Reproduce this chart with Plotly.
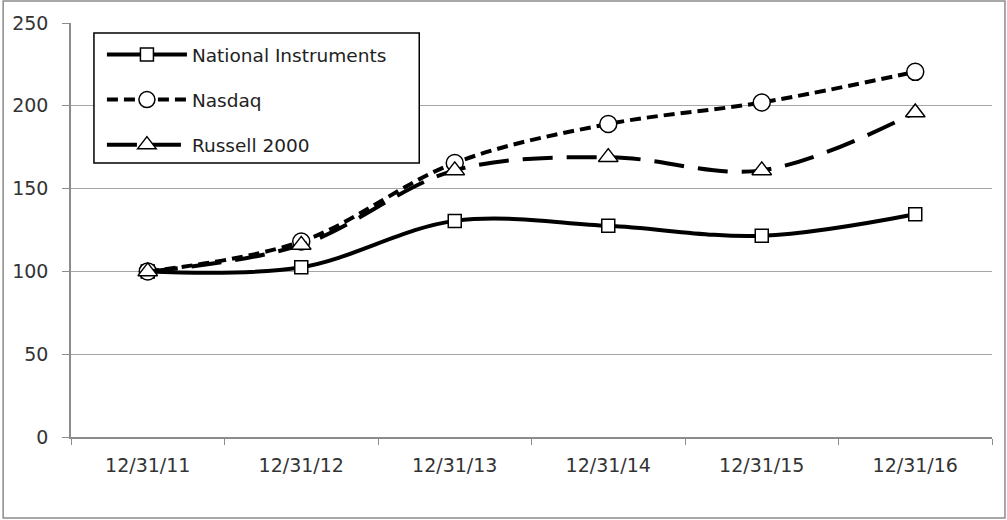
import plotly.graph_objects as go

categories = ["12/31/11", "12/31/12", "12/31/13", "12/31/14", "12/31/15", "12/31/16"]
ni = [100, 102.5, 130.5, 127.5, 121.5, 134.5]
nasdaq = [100, 118, 165.5, 189, 202, 220.5]
russell = [100, 116, 161, 169, 161, 196]
y_ticks = [0, 50, 100, 150, 200, 250]

W, H = 1007, 520
ML, MR, MT, MB = 69, 15, 23, 83

fig = go.Figure()
series = [
    ("National Instruments", ni, "solid", "square", 13),
    ("Nasdaq", nasdaq, "11px,6px", "circle", 17),
    ("Russell 2000", russell, "30px,14px", "triangle-up", 17),
]
for i, (name, vals, dash, sym, ms) in enumerate(series):
    fig.add_trace(go.Scatter(
        x=categories, y=vals, name=name, mode="lines+markers",
        line=dict(color="black", width=4, dash=dash, shape="spline", smoothing=1.0),
        marker=dict(symbol=sym, size=ms, color="white",
                    line=dict(color="black", width=1.5)),
        legendgroup=f"g{i}",
    ))

pw = W - ML - MR
ph = H - MT - MB
def px_to_paper_x(px):
    return (px - ML) / pw
def px_to_paper_y(py):
    return (H - MB - py) / ph

fig.update_layout(
    width=W, height=H,
    margin=dict(l=ML, r=MR, t=MT, b=MB),
    paper_bgcolor="white", plot_bgcolor="white",
    font=dict(family="DejaVu Sans, sans-serif", size=19, color="#333"),
    showlegend=True,
    legend=dict(
        x=px_to_paper_x(100), y=px_to_paper_y(36), xanchor="left", yanchor="top",
        borderwidth=0, bgcolor="rgba(0,0,0,0)",
        font=dict(size=18.5, color="#222"), itemwidth=80, tracegroupgap=18,
    ),
    xaxis=dict(
        type="category", range=[-0.5, 5.5], showgrid=False,
        showline=True, linecolor="#8c8c8c", linewidth=1.5,
        ticks="outside", tickson="boundaries", ticklen=6, tickcolor="#8c8c8c",
        ticklabelstandoff=10, tickfont=dict(size=19),
    ),
    yaxis=dict(
        range=[0, 250], tickvals=y_ticks, showgrid=True, gridcolor="#a6a6a6", gridwidth=1.3,
        showline=True, linecolor="#8c8c8c", linewidth=1.5,
        ticks="outside", ticklen=7, tickcolor="#8c8c8c",
        ticklabelstandoff=10, tickfont=dict(size=19), zeroline=False,
    ),
    shapes=[
        dict(
            type="rect", xref="paper", yref="paper",
            x0=px_to_paper_x(1), x1=px_to_paper_x(1005),
            y0=px_to_paper_y(518), y1=px_to_paper_y(1),
            line=dict(color="#8c8c8c", width=1.5), fillcolor="rgba(0,0,0,0)", layer="below",
        ),
        dict(
            type="rect", xref="paper", yref="paper",
            x0=px_to_paper_x(92), x1=px_to_paper_x(418),
            y0=px_to_paper_y(163), y1=px_to_paper_y(33),
            line=dict(color="black", width=1.5), fillcolor="white", layer="above",
        ),
    ],
)

fig.write_html("out.html")
